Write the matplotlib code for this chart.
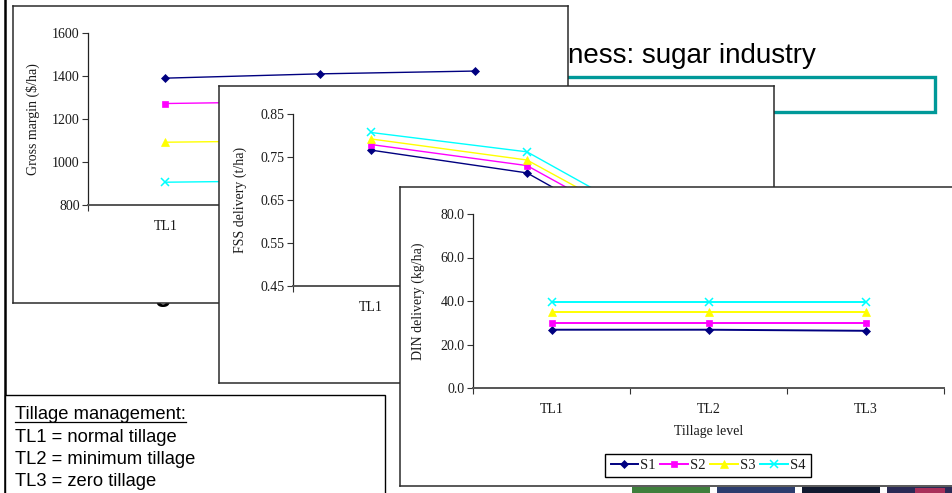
import matplotlib
matplotlib.use("Agg")
import matplotlib.pyplot as plt
from matplotlib.patches import Rectangle
from matplotlib.lines import Line2D

# ---------------------------------------------------------------- data
levels = ["TL1", "TL2", "TL3"]
series = ["S1", "S2", "S3", "S4"]

# Gross margin ($/ha)
gm_s1 = [1390, 1410, 1423]
gm_s2 = [1272, 1282, 1290]
gm_s3 = [1092, 1100, 1108]
gm_s4 = [906, 914, 922]

# FSS delivery (t/ha)
fss_s1 = [0.766, 0.713, 0.510]
fss_s2 = [0.779, 0.730, 0.530]
fss_s3 = [0.792, 0.743, 0.545]
fss_s4 = [0.807, 0.762, 0.560]

# DIN delivery (kg/ha)
din_s1 = [26.8, 26.8, 26.3]
din_s2 = [30.0, 30.0, 30.0]
din_s3 = [35.0, 35.0, 35.0]
din_s4 = [39.6, 39.6, 39.6]

gm_ticks = [800, 1000, 1200, 1400, 1600]
fss_ticks = [0.45, 0.55, 0.65, 0.75, 0.85]
din_ticks = [0.0, 20.0, 40.0, 60.0, 80.0]

notes = ["TL1 = normal tillage", "TL2 = minimum tillage", "TL3 = zero tillage"]

# ---------------------------------------------------------------- styles
W, H, DPI = 952, 493, 100
colors = ["#000080", "#FF00FF", "#FFFF00", "#00FFFF"]
markers = ["D", "s", "^", "x"]
msizes = [4.3, 5.0, 5.5, 6.0]
SERIF = "Liberation Serif"
SANS = "Liberation Sans"
TXT = "#1a1a1a"
FS = 10

fig = plt.figure(figsize=(W / DPI, H / DPI), dpi=DPI)
fig.patch.set_facecolor("white")


def fx(x):
    return x / W


def fy(y):
    return 1 - y / H


def rect(x0, y0, x1, y1):
    return [fx(x0), fy(y1), (x1 - x0) / W, (y1 - y0) / H]


def panel(x0, y0, x1, y1, z):
    ax = fig.add_axes(rect(x0, y0, x1, y1), zorder=z)
    ax.set_facecolor("white")
    ax.set_xticks([])
    ax.set_yticks([])
    for s in ax.spines.values():
        s.set_color("#2b2b2b")
        s.set_linewidth(1.1)
    return ax


def chart(box, area, z, data, ticks, fmt, ylabel, ylabel_px, lw=1.0, xlabel=None):
    panel(*box, z)
    x0, y0, x1, y1 = area
    ax = fig.add_axes(rect(x0, y0, x1, y1), zorder=z + 0.5)
    ax.set_facecolor("none")
    xs = [1, 2, 3]
    for vals, c, m, ms, name in zip(data, colors, markers, msizes, series):
        ax.plot(xs, vals, color=c, lw=lw, marker=m, ms=ms, mew=1.1 if m == "x" else 0.5,
                mec=c, mfc=c, label=name, clip_on=False)
    ax.set_xlim(0.5, 3.5)
    ax.set_ylim(ticks[0], ticks[-1])
    ax.set_yticks(ticks)
    ax.set_yticklabels([fmt.format(t) for t in ticks], fontfamily=SERIF, fontsize=FS, color=TXT)
    ax.set_xticks([0.5, 1.5, 2.5, 3.5])
    ax.set_xticklabels([])
    ax.set_xticks([1, 2, 3], minor=True)
    ax.set_xticklabels(levels, minor=True, fontfamily=SERIF, fontsize=FS, color=TXT)
    ax.tick_params(axis="x", which="major", direction="out", length=4, width=0.8, color="#333333")
    ax.tick_params(axis="x", which="minor", length=0, pad=10.5)
    ax.tick_params(axis="y", direction="out", length=4, width=0.8, color="#333333", pad=2)
    ax.spines["top"].set_visible(False)
    ax.spines["right"].set_visible(False)
    ax.spines["left"].set_color("#222222")
    ax.spines["left"].set_linewidth(0.9)
    ax.spines["bottom"].set_color("#555555")
    ax.spines["bottom"].set_linewidth(1.4)
    ax.set_ylabel(ylabel, fontfamily=SERIF, fontsize=FS, color=TXT)
    ax.yaxis.set_label_coords((ylabel_px - x0) / (x1 - x0), 0.5)
    if xlabel:
        ax.set_xlabel(xlabel, fontfamily=SERIF, fontsize=FS, color=TXT)
        ax.xaxis.set_label_coords(0.5, -(425 - y1) / (y1 - y0))
    return ax


# ---------------------------------------------------------------- slide background
fig.add_artist(Line2D([fx(5), fx(5)], [0, 1], color="black", lw=1.8, zorder=0.2))
fig.text(fx(568), fy(63), "ness: sugar industry", fontfamily=SANS, fontsize=20,
         color="black", va="baseline", ha="left", zorder=0.2)
fig.add_artist(Rectangle((fx(150), fy(112)), fx(935) - fx(150), fy(77) - fy(112),
                         transform=fig.transFigure, fill=False, ec="#009999", lw=2.4, zorder=0.2))
fig.text(fx(155), fy(301), "g", fontfamily=SANS, fontsize=20, fontweight="bold",
         color="black", va="baseline", zorder=0.2)

# photo strip along the bottom edge
strip = [(632, 710, "#3f7f3c"), (717, 795, "#2c3d6e"), (802, 880, "#121a30"), (887, 952, "#2a2a55")]
for a, b, c in strip:
    fig.add_artist(Rectangle((fx(a), 0), fx(b) - fx(a), fy(487), transform=fig.transFigure,
                             fc=c, ec="none", zorder=0.2))
fig.add_artist(Rectangle((fx(915), 0), fx(945) - fx(915), fy(488), transform=fig.transFigure,
                         fc="#a8305a", ec="none", zorder=0.25))

# tillage note box
fig.add_artist(Rectangle((fx(5), fy(500)), fx(385) - fx(5), fy(395) - fy(500),
                         transform=fig.transFigure, fc="white", ec="black", lw=1.0, zorder=0.3))
head = fig.text(fx(15), fy(419), "Tillage management:", fontfamily=SANS, fontsize=13.2,
                color="black", va="baseline", zorder=0.4)
for i, line in enumerate(notes):
    fig.text(fx(15), fy(441.5 + 22.3 * i), line, fontfamily=SANS, fontsize=13.2,
             color="black", va="baseline", zorder=0.4)

# ---------------------------------------------------------------- charts
chart((13, 6, 568, 303), (88, 33, 552, 205), 1,
      [gm_s1, gm_s2, gm_s3, gm_s4], gm_ticks, "{:.0f}", "Gross margin ($/ha)", 40)
chart((219, 86, 774, 383), (293, 114, 761, 286), 3,
      [fss_s1, fss_s2, fss_s3, fss_s4], fss_ticks, "{:.2f}", "FSS delivery (t/ha)", 247)
ax3 = chart((400, 187, 965, 486), (473, 214, 944, 388), 5,
            [din_s1, din_s2, din_s3, din_s4], din_ticks, "{:.1f}", "DIN delivery (kg/ha)", 425,
            lw=1.4, xlabel="Tillage level")
leg = ax3.legend(loc="center", bbox_to_anchor=(fx(708), fy(465.5)), bbox_transform=fig.transFigure,
                 ncol=4, frameon=True, fancybox=False, edgecolor="black", framealpha=1,
                 prop={"family": SERIF, "size": 10.5}, handlelength=1.9, handletextpad=0.15,
                 columnspacing=0.3, borderpad=0.35, borderaxespad=0)
leg.get_frame().set_linewidth(1.0)
for t in leg.get_texts():
    t.set_color(TXT)

# underline for the note heading
fig.canvas.draw()
bb = head.get_window_extent()
fig.add_artist(Line2D([bb.x0 / W, bb.x1 / W], [fy(421.5), fy(421.5)], color="black",
                      lw=0.9, zorder=0.4))

fig.savefig("out.png", dpi=DPI)
